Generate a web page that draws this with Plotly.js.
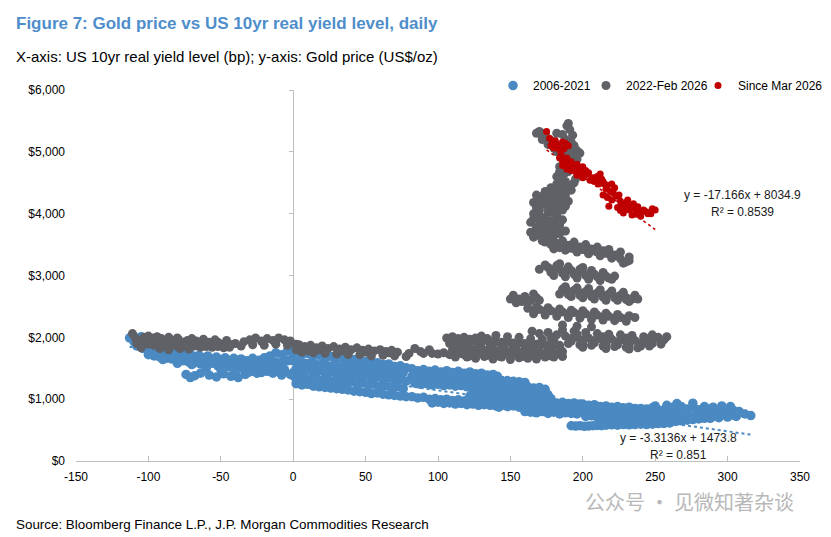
<!DOCTYPE html>
<html>
<head>
<meta charset="utf-8">
<script src="https://cdn.plot.ly/plotly-3.0.1.min.js"></script>
<style>html,body{margin:0;padding:0;background:#fff;}#chart{width:831px;height:537px;}</style>
</head>
<body>
<div id="chart"></div>
<script>
// ---------- data ----------
const seriesNames = ['2006-2021', '2022-Feb 2026', 'Since Mar 2026'];
const xTicks = [-150, -100, -50, 0, 50, 100, 150, 200, 250, 300, 350];
const xTickText = ['-150', '-100', '-50', '0', '50', '100', '150', '200', '250', '300', '350'];
const yTicks = [0, 1000, 2000, 3000, 4000, 5000, 6000];
const yTickText = ['$0', '$1,000', '$2,000', '$3,000', '$4,000', '$5,000', '$6,000'];

// [real yield (bp), gold price (US$/oz)]
const bluePts = [
 [-113,1990],[-111,2040],[-110,1930],[-108,1980],[-106,1900],[-105,2010],[-103,1850],[-101,1940],[-99,1800],[-97,1880],
 [-95,1810],[-92,1760],[-89,1790],[-86,1740],[-83,1770],[-80,1720],[-77,1750],[-74,1700],[-71,1730],[-68,1690],
 [-65,1710],[-62,1670],[-59,1700],[-56,1650],[-53,1680],[-50,1640],[-47,1670],[-44,1630],[-41,1660],[-38,1620],
 [-96,1700],[-92,1680],[-88,1660],[-84,1650],[-80,1630],[-76,1620],[-72,1600],[-68,1590],[-64,1570],[-60,1560],
 [-56,1580],[-52,1540],[-48,1560],[-44,1520],[-40,1540],[-36,1500],[-32,1530],[-28,1490],[-24,1510],[-20,1480],
 [-74,1400],[-71,1350],[-68,1380],[-64,1420],[-58,1390],[-53,1360],[-48,1410],[-43,1370],[-38,1350],[-33,1400],
 [-36,1650],[-32,1620],[-28,1660],[-24,1630],[-20,1670],[-16,1700],[-12,1750],[-8,1720],[-4,1780],[0,1820],
 [-16,1560],[-12,1600],[-8,1580],[-4,1620],[0,1700],[-2,1900],[2,1860],[-6,1640],[-10,1450],[-14,1420],
 [-18,1450],[-6,1480],[-2,1400],[2,1330],[-22,1430],
 [-108,1860],[-104,1820],[-100,1760],[-97,1740],[-94,1730],[-90,1720],[-87,1700],[-84,1700],[-81,1690],[-78,1680],
 [-75,1660],[-72,1650],[-69,1640],[-66,1630],[-63,1620],[-60,1620],[-57,1610],[-54,1600],[-51,1590],[-48,1600],
 [-45,1580],[-42,1580],[-39,1570],[-35,1560],[-31,1570],[-27,1550],[-23,1560],[-19,1540],[-15,1500],[-11,1510],
 [-100,1720],[-90,1640],[-80,1580],[-70,1560],[-60,1510],[-50,1480],[-40,1460],[-30,1440],[-25,1420],[-8,1390],
 [2,1760],[6,1720],[10,1740],[14,1700],[18,1710],[22,1670],[26,1690],[30,1650],[34,1660],[38,1620],
 [42,1640],[46,1600],[50,1610],[54,1580],[58,1590],[62,1560],[66,1570],[70,1530],[74,1540],[78,1510],
 [0,1620],[4,1600],[8,1580],[12,1590],[16,1560],[20,1570],[24,1540],[28,1550],[32,1520],[36,1530],
 [40,1500],[44,1510],[48,1480],[52,1490],[56,1460],[60,1470],[64,1440],[68,1450],[72,1420],[76,1430],
 [2,1490],[6,1470],[10,1480],[14,1450],[18,1460],[22,1430],[26,1440],[30,1410],[34,1420],[38,1390],
 [42,1400],[46,1370],[50,1380],[54,1350],[58,1360],[62,1330],[66,1340],[70,1310],[74,1320],[78,1290],
 [0,1380],[4,1350],[8,1360],[12,1330],[16,1340],[20,1310],[24,1320],[28,1290],[32,1300],[36,1270],
 [40,1280],[44,1250],[48,1260],[52,1230],[56,1240],[60,1210],[64,1220],[68,1190],[72,1200],[76,1170],
 [2,1250],[6,1230],[10,1240],[14,1210],[18,1200],[22,1190],[26,1180],[30,1170],[34,1160],[38,1150],
 [42,1130],[46,1120],[50,1110],[54,1090],[58,1100],[62,1080],[66,1070],[70,1060],[74,1050],[78,1040],
 [82,1490],[86,1460],[90,1480],[94,1450],[98,1470],[102,1440],[106,1460],[110,1430],[114,1450],[118,1420],
 [122,1440],[126,1410],[130,1420],[134,1390],[138,1400],[141,1370],
 [82,1370],[86,1350],[90,1360],[94,1330],[98,1340],[102,1310],[106,1330],[110,1300],[114,1320],[118,1290],
 [122,1310],[126,1280],[130,1300],[134,1270],[138,1290],[142,1260],[146,1280],[150,1250],[154,1260],[158,1230],
 [84,1260],[88,1240],[92,1250],[96,1230],[100,1240],[104,1220],[108,1230],[112,1210],[116,1220],[120,1200],
 [124,1190],[128,1180],[132,1170],[136,1160],[140,1150],[144,1140],[148,1150],[152,1130],[156,1140],[160,1120],
 [162,1200],[166,1180],[170,1190],[174,1160],[164,1100],[168,1090],[172,1080],[176,1070],
 [84,1420],[88,1410],[92,1400],[96,1400],[100,1390],[104,1380],[108,1380],[112,1370],[116,1360],[120,1350],
 [124,1340],[128,1340],[132,1330],[136,1320],[140,1310],[144,1300],[148,1300],[152,1290],[156,1280],[160,1270],
 [84,1310],[88,1300],[92,1300],[96,1290],[100,1280],[104,1270],[108,1270],[112,1260],[116,1260],[120,1250],
 [124,1240],[128,1230],[132,1230],[136,1220],[140,1210],[144,1200],[148,1200],[152,1190],[156,1190],[160,1180],
 [124,1130],[130,1120],[136,1110],[142,1100],[148,1090],[154,1080],[160,1070],[166,1050],[172,1030],[178,1010],
 [82,1040],[86,1020],[90,1030],[94,1000],[98,1010],[102,990],[106,1000],[110,980],[114,990],[118,970],
 [122,1050],[126,1030],[130,1040],[134,1020],[138,1030],[142,1010],[146,1020],[150,1000],[154,1010],[158,990],
 [96,940],[100,950],[104,930],[108,940],[112,920],[116,930],[120,910],[124,920],[128,900],[132,910],
 [136,900],[140,890],[144,900],[148,880],[152,890],[156,870],[160,880],[164,860],[168,870],[172,850],
 [120,980],[126,970],[132,960],[138,960],[144,950],[150,940],[156,930],[162,920],[168,920],[174,910],
 [180,900],[186,890],[192,880],[198,870],[176,850],[182,840],[188,830],[194,820],[200,860],[142,870],
 [162,980],[166,960],[170,970],[174,950],[178,960],[182,940],[186,950],[190,930],[194,940],[198,920],
 [160,800],[164,790],[168,780],[172,800],[176,770],[180,790],[184,760],[188,780],[192,770],[196,760],
 [200,920],[204,900],[208,910],[212,880],[216,890],[220,870],[224,880],[228,860],[232,870],[236,850],
 [200,820],[204,800],[208,810],[212,790],[216,800],[220,780],[224,790],[228,770],[232,780],[236,760],
 [202,720],[206,730],[210,710],[214,720],[218,700],[222,710],[226,690],[230,700],[234,680],[238,690],
 [204,760],[210,750],[216,750],[222,740],[228,730],[234,730],[240,720],[246,710],[252,700],[258,700],
 [264,690],[270,690],[276,700],[282,700],[288,690],[294,700],[300,710],[306,720],[244,680],[256,660],
 [240,810],[248,800],[256,800],[264,800],[272,790],[280,790],[288,790],[296,790],[304,780],[226,830],
 [218,840],[232,820],[210,860],[296,890],[302,880],[290,870],[284,880],[258,900],[250,890],[262,870],
 [240,850],[244,840],[248,860],[252,830],[256,825],[260,850],[264,860],[268,880],[272,840],[276,870],
 [280,830],[284,820],[288,840],[292,810],[296,850],[300,830],[304,820],[308,800],[265,930],[276,935],
 [240,770],[244,760],[248,780],[252,750],[256,760],[260,740],[264,750],[268,730],[272,740],[276,720],
 [280,740],[284,730],[288,750],[292,720],[296,740],[300,760],[304,740],[308,780],[312,760],[316,735],
 [212,640],[216,620],[220,650],[224,630],[228,640],[232,620],[236,630],[240,610],[244,620],[248,600],
 [252,630],[256,610],[260,620],[264,640],[268,650],[272,660],[276,670],[280,680],[284,690],[288,700],
 [192,570],[195,565],[198,570],[201,560],[204,565],[207,570],[210,575],[213,570],[216,580],[220,585],
 [224,580],[228,590],[232,585],[236,590],[240,595],[244,590],[248,600],[252,605],[256,610],[260,615]
];

const grayPts = [
 [-111,2060],[-109,1990],[-106,1950],[-103,2000],[-100,1960],[-97,1990],[-94,1950],[-91,1980],[-88,1940],[-85,1970],
 [-82,1930],[-79,1960],[-76,1920],[-73,1950],[-70,1910],[-67,1940],[-64,1900],[-61,1930],[-58,1920],[-55,1900],
 [-52,1920],[-49,1890],[-46,1910],[-43,1880],[-40,1900],[-105,1830],[-92,1820],[-86,1800],[-78,1820],[-72,1810],
 [-30,1960],[-26,1990],[-22,1940],[-18,1980],[-14,1950],[-10,1990],[-6,1960],[-2,1940],[2,1890],[-34,1930],
 [-108,1900],[-104,1880],[-100,1890],[-96,1870],[-92,1880],[-88,1860],[-84,1870],[-80,1850],[-76,1860],[-72,1850],
 [-68,1860],[-64,1840],[-60,1850],[-56,1840],[-52,1850],[-48,1830],[-44,1840],[-36,1860],[-28,1880],[-20,1870],
 [-12,1890],[-4,1870],[-100,2020],[-94,2010],[-86,2000],[-80,1990],[-70,1980],[-62,1970],[-54,1960],[-46,1950],
 [4,1880],[8,1850],[12,1870],[16,1830],[20,1860],[24,1820],[28,1850],[32,1810],[36,1840],[40,1800],
 [44,1830],[48,1790],[52,1810],[56,1780],[60,1800],[64,1770],[68,1790],[72,1760],[6,1760],[14,1750],
 [22,1740],[30,1730],[38,1720],[46,1720],[54,1700],[62,1710],[70,1700],[78,1690],[2,1800],[10,1780],
 [18,1800],[34,1780],[50,1760],[66,1750],[80,1740],[88,1770],[94,1800],
 [84,1820],[90,1740],[96,1740],[100,1730],[104,1750],[108,1720],[116,1740],[122,1700],[132,1710],[142,1700],
 [108,1900],[112,1860],[116,1920],[120,1870],[124,1940],[128,1880],[132,1950],[136,1890],[140,1930],[144,1870],
 [148,1920],[152,1860],[156,1910],[160,1850],[164,1900],[168,1840],[172,1890],[176,1830],[180,1880],[184,1820],
 [110,1800],[114,1780],[118,1810],[122,1770],[126,1800],[130,1760],[134,1790],[138,1750],[142,1780],[146,1740],
 [150,1770],[154,1730],[158,1760],[162,1720],[166,1750],[170,1710],[174,1740],[178,1700],[182,1730],[186,1690],
 [120,1680],[126,1660],[132,1690],[138,1650],[144,1680],[150,1640],[156,1670],[162,1660],[168,1650],[174,1680],
 [106,1990],[110,2010],[114,1980],[118,2000],[122,1970],[126,1990],[130,2020],[134,1980],
 [112,1930],[120,1950],[128,1960],[136,1940],[144,1920],[152,1910],[160,1900],[168,1890],[176,1880],[184,1870],
 [114,1840],[122,1830],[130,1830],[138,1820],[146,1810],[154,1800],[162,1800],[170,1790],[178,1780],[186,1770],
 [118,1720],[126,1720],[134,1710],[142,1700],[150,1700],[158,1690],[166,1700],[174,1720],[180,1680],[112,1680],
 [192,1940],[200,1900],[208,1910],[216,1890],[224,1880],[232,1870],[240,1860],[196,2050],[214,2010],[230,1990],
 [172,1970],[180,1960],[164,1980],[156,2000],[148,2010],[140,2030],[178,2000],[244,1980],[258,2010],[248,2040],
 [200,1840],[216,1820],[232,1810],
 [188,2020],[192,1980],[196,2000],[200,1960],[204,1990],[208,1950],[212,1980],[216,1940],[220,1970],[224,1930],
 [228,1960],[232,1920],[236,1950],[240,1910],[244,1940],[248,1900],[252,2000],[256,1960],[190,1900],[198,1880],
 [206,1870],[214,1860],[222,1850],[230,1840],[238,1830],[246,1860],[254,1890],[165,2100],[170,2060],[176,2080],
 [182,2040],[186,2120],[194,2100],[202,2080],[210,2060],[218,2050],[226,2040],[234,2030],[242,2010],[250,1990],
 [152,2680],[156,2620],[160,2660],[164,2600],[168,2640],
 [154,2560],[158,2580],[162,2560],[150,2620],[166,2700],[170,2600],
 [162,2470],[166,2440],[170,2450],[174,2420],[178,2430],[182,2400],[186,2410],[190,2380],[194,2400],[198,2370],
 [202,2380],[206,2350],[210,2360],[214,2330],[218,2340],[222,2310],[226,2320],[230,2300],[166,2380],[174,2360],
 [182,2340],[190,2320],[198,2310],[206,2290],[214,2280],[222,2270],[230,2260],[186,2200],[196,2180],[206,2170],
 [168,2500],[176,2480],[184,2460],[192,2440],[200,2430],[208,2410],[216,2390],[224,2370],[232,2350],[236,2320],
 [186,2780],[190,2740],[194,2760],[198,2720],[202,2740],[206,2700],[210,2720],[214,2680],[218,2700],[222,2660],
 [226,2680],[230,2640],[234,2620],[192,2660],[200,2640],[208,2620],[216,2600],[224,2600],[232,2580],[184,2700],
 [188,2820],[196,2800],[204,2790],[212,2770],[220,2750],[228,2730],[236,2680],[238,2620],[190,2690],[198,2680],
 [206,2660],[214,2650],[222,2640],[230,2610],
 [176,3130],[180,3090],[184,3110],[188,3060],[192,3080],[196,3030],[200,3050],[204,3000],[208,3020],[212,2970],
 [216,2990],[220,2940],[180,3000],[188,2980],[196,2960],[204,2940],[212,2920],[174,3170],[184,3190],[200,3130],
 [178,3050],[186,3040],[194,3020],[202,3000],[210,2980],[218,2960],[182,3160],[190,3140],[198,3100],[206,3080],
 [214,3050],[222,2990],[170,3100],
 [174,3540],[178,3500],[182,3520],[186,3470],[190,3490],[194,3440],[198,3460],[202,3410],[206,3430],[210,3380],
 [214,3400],[218,3350],[222,3330],[226,3270],[230,3220],[180,3430],[188,3410],[196,3380],[204,3350],[212,3320],
 [220,3280],[228,3200],[176,3600],[172,3560],
 [178,3580],[186,3560],[194,3540],[202,3500],[210,3460],[218,3420],[226,3380],[232,3300],[184,3450],[192,3440],
 [200,3420],[208,3400],[216,3360],[224,3320],[232,3240],
 [166,3620],[170,3680],[174,3650],[178,3720],[168,3780],[172,3840],[176,3800],[180,3880],[166,3920],[170,3980],
 [174,3940],[178,4020],[182,3980],[186,4060],[168,4100],[172,4150],[176,4120],[180,4200],[184,4160],[188,4240],
 [172,4280],[176,4320],[180,4260],[184,4340],[188,4300],[192,4380],[178,4420],[186,4460],[194,4500],[168,4040],
 [164,3860],[182,3760],[190,4200],[176,4240],
 [164,3700],[168,3650],[172,3740],[176,3700],[180,3780],[184,3820],[186,3900],[182,3920],[178,3880],[174,3860],
 [170,3900],[166,4000],[170,4060],[176,4040],[182,4080],[188,4120],[184,4220],[178,4160],[174,4200],[170,4220],
 [166,4180],[168,4300],[174,4360],[180,4340],[186,4380],[190,4420],[184,4420],[192,4460],[188,4520],[182,4480],
 [172,3620],[180,3640],[178,3580],[184,3680],[188,3720],
 [182,4600],[186,4640],[190,4680],[194,4720],[184,4760],[188,4800],[192,4840],[196,4880],[186,4950],[190,5000],
 [194,5020],[198,4980],[180,5060],[184,5100],[188,5140],[178,5180],[175,5230],[172,5260],[168,5300],[170,5330],
 [189,5420],[191,5360],[193,5270],[188,5200],[185,4540],[195,4560],
 [186,4700],[190,4760],[194,4800],[188,4660],[184,4680],[192,4920],[196,4940],[182,5000],[186,5040],[176,5120],
 [180,5160],[172,5200],[190,5080],[194,5100],[192,5160],[186,5280],[182,5300],[174,5300],[190,5460],[196,5020]
];

const redPts = [
 [175,5330],[177,5220],[179,5150],[181,5180],[178,5100],[180,5060],[182,5120],[184,5030],[186,5160],[188,5140],
 [190,5100],[184,4900],[186,4850],[188,4880],[190,4800],[192,4840],[194,4760],[196,4800],[198,4720],[200,4760],
 [186,4780],[189,4720],[192,4700],[195,4680],[198,4650],[201,4620],[204,4660],[207,4580],[210,4600],[213,4560],
 [202,4700],[205,4540],[208,4520],[211,4480],[214,4520],[217,4460],[220,4480],[216,4400],[219,4360],[222,4420],
 [214,4300],[217,4260],[220,4220],[223,4280],[226,4200],[229,4150],[218,4120],[224,4100],[228,4080],[232,4060],
 [230,4180],[233,4120],[236,4080],[239,4030],[242,4060],[245,4000],[248,4080],[234,3980],[240,3960],[246,4020],
 [226,4050],[228,4010],[212,4640],[196,4620],[200,4580],
 [183,5080],[187,5050],[185,4960],[189,4900],[193,4780],[197,4700],[203,4640],[209,4560],[215,4480],[221,4340],
 [225,4300],[231,4220],[235,4160],[238,4110],[243,4040],[247,4000],[250,4060],[237,3990],[231,4100],[227,4140]
];

// regression lines printed on the chart: [slope, intercept]
const blueFit = [-3.3136, 1473.8];
const redFit = [-17.166, 8034.9];

// ---------- build ----------
const xs = p => p.map(d => d[0]);
const ys = p => p.map(d => d[1]);
function fitLine(pts, fit) {
  const xv = xs(pts);
  const x0 = Math.min(...xv), x1 = Math.max(...xv);
  return {x: [x0, x1], y: [fit[0] * x0 + fit[1], fit[0] * x1 + fit[1]]};
}
const BLUE = '#4a89c1', GRAY = '#5f6166', RED = '#c00000';
const bl = fitLine(bluePts, blueFit), rl = fitLine(redPts, redFit);

const traces = [
  {type: 'scatter', mode: 'markers', name: seriesNames[0], x: xs(bluePts), y: ys(bluePts), legend: 'legend',
   marker: {color: BLUE, size: 9.5, line: {width: 0}}},
  {type: 'scatter', mode: 'lines', x: bl.x, y: bl.y, showlegend: false, hoverinfo: 'skip',
   line: {color: BLUE, width: 2, dash: 'dot'}},
  {type: 'scatter', mode: 'markers', name: seriesNames[1], x: xs(grayPts), y: ys(grayPts), legend: 'legend2',
   marker: {color: GRAY, size: 9, line: {width: 0}}},
  {type: 'scatter', mode: 'markers', name: seriesNames[2], x: xs(redPts), y: ys(redPts), legend: 'legend3',
   marker: {color: RED, size: 7, line: {width: 0}}},
  {type: 'scatter', mode: 'lines', x: rl.x, y: rl.y, showlegend: false, hoverinfo: 'skip', yaxis: 'y2',
   line: {color: RED, width: 1.5, dash: 'dot'}}
];

const FONT = 'Liberation Sans, Arial, Helvetica, sans-serif';
const legendBase = {orientation: 'h', xanchor: 'left', y: 1.012, yanchor: 'middle',
                    font: {family: FONT, size: 12, color: '#000'}, bgcolor: 'rgba(0,0,0,0)', itemwidth: 30};
const layout = {
  width: 831, height: 537,
  margin: {l: 76, r: 31, t: 90, b: 76, autoexpand: false},
  paper_bgcolor: '#ffffff', plot_bgcolor: '#ffffff',
  font: {family: FONT, size: 12, color: '#000000'},
  showlegend: true,
  legend: Object.assign({}, legendBase, {x: 0.576}),
  legend2: Object.assign({}, legendBase, {x: 0.7044}),
  legend3: Object.assign({}, legendBase, {x: 0.8591}),
  xaxis: {range: [-150, 350], tickvals: xTicks, ticktext: xTickText, ticks: 'inside', ticklen: 5, tickcolor: '#bfbfbf',
          showline: true, linecolor: '#bfbfbf', linewidth: 1, showgrid: false, zeroline: false, automargin: false,
          tickfont: {family: FONT, size: 12, color: '#000'}, layer: 'below traces', ticklabelstandoff: 5},
  yaxis: {range: [0, 6000], tickvals: yTicks, ticktext: yTickText, ticks: '', automargin: false,
          showline: false, showgrid: false, zeroline: false, ticklabelstandoff: 10,
          tickfont: {family: FONT, size: 12, color: '#000'}},
  yaxis2: {overlaying: 'y', anchor: 'free', position: 0.3, side: 'left', range: [0, 6000], tickvals: yTicks,
           showline: true, linecolor: '#bfbfbf', linewidth: 1, ticks: 'outside', ticklen: 4, tickcolor: '#bfbfbf',
           showticklabels: false, showgrid: false, zeroline: false, layer: 'below traces', automargin: false},
  annotations: [
    {xref: 'paper', yref: 'paper', x: -0.0856, y: 1.178, xanchor: 'left', yanchor: 'middle', showarrow: false,
     text: '<b>Figure 7: Gold price vs US 10yr real yield level, daily</b>',
     font: {family: FONT, size: 17, color: '#4e8ecb'}},
    {xref: 'paper', yref: 'paper', x: -0.0856, y: 1.089, xanchor: 'left', yanchor: 'middle', showarrow: false,
     text: 'X-axis: US 10yr real yield level (bp); y-axis: Gold price (US$/oz)',
     font: {family: FONT, size: 15, color: '#000'}},
    {xref: 'x', yref: 'y', x: 310, y: 4300, xanchor: 'center', yanchor: 'middle', showarrow: false,
     text: 'y = -17.166x + 8034.9', font: {family: FONT, size: 12, color: '#1a1a1a'}},
    {xref: 'x', yref: 'y', x: 310, y: 4026, xanchor: 'center', yanchor: 'middle', showarrow: false,
     text: 'R² = 0.8539', font: {family: FONT, size: 12, color: '#1a1a1a'}},
    {xref: 'x', yref: 'y', x: 266, y: 372, xanchor: 'center', yanchor: 'middle', showarrow: false,
     text: 'y = -3.3136x + 1473.8', font: {family: FONT, size: 12, color: '#1a1a1a'}},
    {xref: 'x', yref: 'y', x: 266, y: 97, xanchor: 'center', yanchor: 'middle', showarrow: false,
     text: 'R² = 0.851', font: {family: FONT, size: 12, color: '#1a1a1a'}},
    {xref: 'paper', yref: 'paper', x: -0.0856, y: -0.1725, xanchor: 'left', yanchor: 'middle', showarrow: false,
     text: 'Source: Bloomberg Finance L.P., J.P. Morgan Commodities Research',
     font: {family: FONT, size: 13.4, color: '#000'}},
    {xref: 'paper', yref: 'paper', x: 0.848, y: -0.1105, xanchor: 'center', yanchor: 'middle', showarrow: false,
     text: '公众号 · 见微知著杂谈',
     font: {family: 'Noto Sans CJK SC, sans-serif', size: 20, color: '#b8b8b8'}}
  ]
};

Plotly.newPlot('chart', traces, layout, {displayModeBar: false, staticPlot: true});
</script>
</body>
</html>
